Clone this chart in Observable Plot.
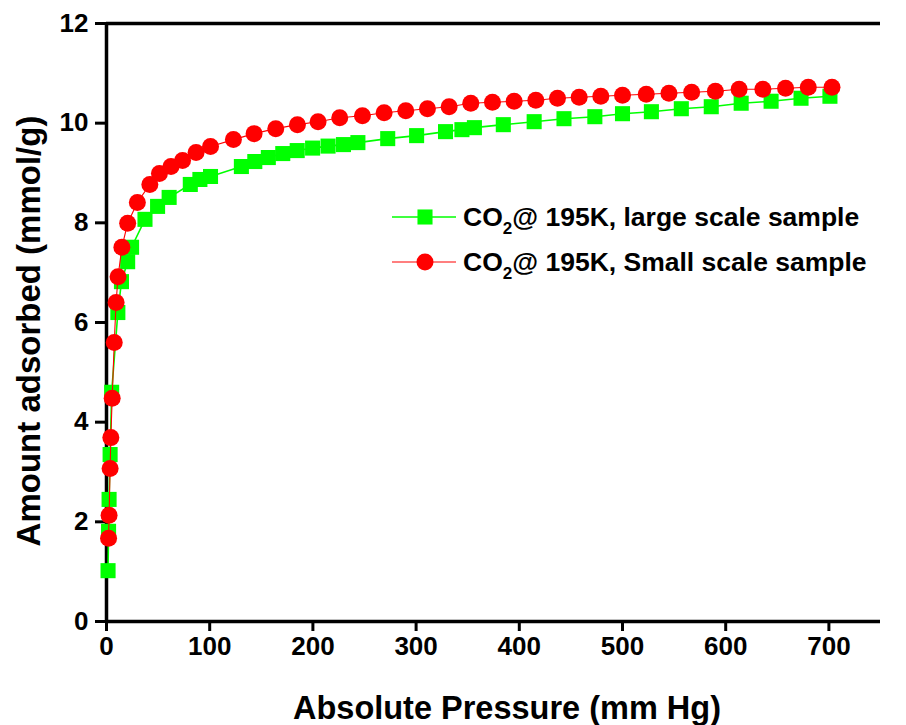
<!DOCTYPE html>
<html>
<head>
<meta charset="utf-8">
<script src="https://cdn.jsdelivr.net/npm/d3@7"></script>
<script src="https://cdn.jsdelivr.net/npm/@observablehq/plot@0.6"></script>
<style>
  body { margin: 0; background: #fff; }
  #chart { width: 906px; height: 725px; }
</style>
</head>
<body>
<div id="chart"></div>
<script>
// Series 1: CO2 @ 195K, large scale sample (green squares)
const largePressure = [1.5, 2, 2.5, 3.5, 5, 11, 14.5, 20.5, 24.3, 37.3, 49.5, 60.7, 81.2, 90.5, 100.8,
  130.7, 143.7, 156.8, 170.8, 184.8, 199.7, 214.7, 229.6, 243.6, 272.5, 300.5, 328.5, 344.4, 356.5,
  384.5, 414.4, 443.3, 473.2, 500, 528, 557, 586, 615, 644, 673, 701];
const largeAmount = [1.02, 1.81, 2.45, 3.35, 4.60, 6.20, 6.82, 7.22, 7.51, 8.07, 8.33, 8.51, 8.77, 8.87, 8.93,
  9.13, 9.23, 9.31, 9.39, 9.45, 9.50, 9.54, 9.57, 9.61, 9.69, 9.75, 9.83, 9.87, 9.91,
  9.97, 10.03, 10.09, 10.13, 10.19, 10.23, 10.29, 10.33, 10.40, 10.44, 10.50, 10.54];

// Series 2: CO2 @ 195K, Small scale sample (red circles)
const smallPressure = [2, 2.5, 3.5, 4.2, 5.5, 7.5, 9.3, 11.2, 14.9, 20.5, 29.9, 42, 51.3, 62.5, 73.7, 86.8, 100.8,
  123, 143, 164, 185, 205, 226, 248, 269, 290, 311, 332, 353, 374, 395, 416, 437, 458, 479, 500,
  523, 545, 567, 590, 613, 636, 658, 680, 703];
const smallAmount = [1.67, 2.13, 3.07, 3.69, 4.48, 5.60, 6.40, 6.92, 7.51, 7.99, 8.41, 8.77, 8.99, 9.13, 9.25, 9.41, 9.53,
  9.67, 9.79, 9.89, 9.97, 10.03, 10.11, 10.15, 10.21, 10.25, 10.29, 10.33, 10.40, 10.42, 10.44, 10.46, 10.50, 10.52, 10.54, 10.56,
  10.58, 10.60, 10.62, 10.64, 10.68, 10.68, 10.70, 10.72, 10.72];

const xTicks = [0, 100, 200, 300, 400, 500, 600, 700];
const yTicks = [0, 2, 4, 6, 8, 10, 12];
const seriesLabels = ["@ 195K, large scale sample", "@ 195K, Small scale sample"];
const seriesColors = ["#00ff00", "#ff0000"];
const xTitle = "Absolute Pressure (mm Hg)";
const yTitle = "Amount adsorbed (mmol/g)";

const large = largePressure.map((p, i) => ({p, a: largeAmount[i]}));
const small = smallPressure.map((p, i) => ({p, a: smallAmount[i]}));

const FONT = "'Liberation Sans', Arial, Helvetica, sans-serif";

const chart = Plot.plot({
  width: 906,
  height: 725,
  marginLeft: 106,
  marginRight: 26,
  marginTop: 23,
  marginBottom: 104,
  style: { fontFamily: FONT, background: "white", color: "black", overflow: "visible" },
  x: { domain: [0, 750] },
  y: { domain: [0, 12] },
  marks: [
    Plot.axisX(xTicks, { tickSize: 10, tickPadding: 5, fontSize: 26, fontWeight: "bold", strokeWidth: 3, label: null, tickFormat: d => String(d) }),
    Plot.axisY(yTicks, { tickSize: 11, tickPadding: 7, fontSize: 26, fontWeight: "bold", strokeWidth: 3, label: null, tickFormat: d => String(d) }),
    Plot.ruleY([0], { strokeWidth: 3.5 }),
    Plot.ruleY([12], { strokeWidth: 3.5 }),
    Plot.ruleX([0], { strokeWidth: 3.5 }),
    Plot.line(large, { x: "p", y: "a", stroke: seriesColors[0], strokeWidth: 1.6 }),
    Plot.dot(large, { x: "p", y: "a", symbol: "square", r: 8.5, fill: seriesColors[0], stroke: "none" }),
    Plot.line(small, { x: "p", y: "a", stroke: seriesColors[1], strokeWidth: 1.1 }),
    Plot.dot(small, { x: "p", y: "a", symbol: "circle", r: 8.5, fill: seriesColors[1], stroke: "none" })
  ]
});
document.getElementById("chart").appendChild(chart);

// Axis titles and legend added as real SVG text
const svg = d3.select(chart);
svg.append("text")
  .attr("x", 507).attr("y", 719)
  .attr("text-anchor", "middle")
  .attr("font-family", FONT).attr("font-weight", "bold").attr("font-size", 32.5)
  .attr("fill", "black")
  .text(xTitle);
svg.append("text")
  .attr("transform", "translate(40,331) rotate(-90)")
  .attr("text-anchor", "middle")
  .attr("font-family", FONT).attr("font-weight", "bold").attr("font-size", 33)
  .attr("fill", "black")
  .text(yTitle);

const legendRows = [
  { y: 217, color: seriesColors[0], symbol: d3.symbolSquare, lw: 1.6, label: seriesLabels[0] },
  { y: 262, color: seriesColors[1], symbol: d3.symbolCircle, lw: 1.1, label: seriesLabels[1] }
];
const lg = svg.append("g").attr("font-family", FONT).attr("font-weight", "bold");
legendRows.forEach(row => {
  lg.append("line").attr("x1", 392).attr("x2", 456).attr("y1", row.y).attr("y2", row.y)
    .attr("stroke", row.color).attr("stroke-width", row.lw);
  lg.append("path").attr("transform", `translate(425,${row.y})`)
    .attr("d", d3.symbol(row.symbol, Math.PI * 8.5 * 8.5)())
    .attr("fill", row.color);
  const t = lg.append("text").attr("x", 463).attr("y", row.y + 9)
    .attr("text-anchor", "start").attr("font-size", 26.5).attr("fill", "black");
  t.append("tspan").text("CO");
  t.append("tspan").attr("font-size", 17).attr("dy", 8).text("2");
  t.append("tspan").attr("dy", -8).text(row.label);
});
</script>
</body>
</html>
